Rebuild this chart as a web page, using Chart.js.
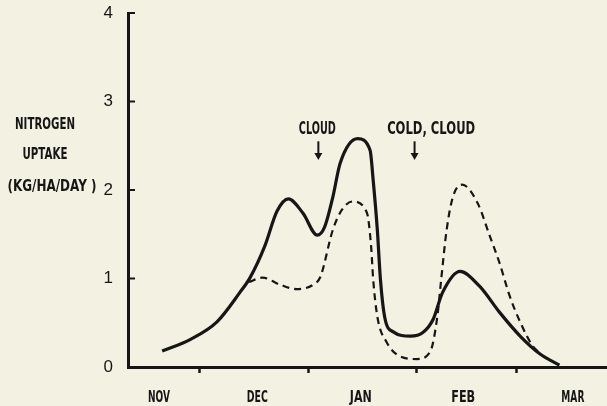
<!DOCTYPE html>
<html>
<head>
<meta charset="utf-8">
<script src="https://cdn.jsdelivr.net/npm/chart.js@4.4.1/dist/chart.umd.min.js"></script>
<style>
  html, body { margin: 0; padding: 0; background: #f3f1e2; }
  #wrap { width: 607px; height: 406px; }
</style>
</head>
<body>
<div id="wrap"><canvas id="chart" width="607" height="406"></canvas></div>
<script>
// Month axis: NOV = 0, DEC = 1, ... (positions)
const monthLabels = ['NOV', 'DEC', 'JAN', 'FEB', 'MAR'];
const monthLabelPos = [0, 0.95, 1.95, 2.94, 4.0];
const monthTickPos = [0.39, 1.44, 2.49, 3.46];
const yTicks = [0, 1, 2, 3, 4];

// Solid curve
const solidX = [0.03, 0.30, 0.56, 0.78, 0.88, 1.02, 1.14, 1.25, 1.39, 1.53, 1.60, 1.68, 1.75, 1.92, 2.04, 2.07, 2.11, 2.14, 2.18, 2.26, 2.43, 2.55, 2.65, 2.74, 2.91, 3.10, 3.29, 3.49, 3.68, 3.87];
const solidY = [0.18, 0.31, 0.51, 0.84, 1.01, 1.36, 1.76, 1.90, 1.74, 1.49, 1.58, 1.92, 2.30, 2.58, 2.45, 2.11, 1.55, 0.99, 0.57, 0.40, 0.35, 0.39, 0.54, 0.84, 1.08, 0.91, 0.62, 0.35, 0.15, 0.02];

// Dashed curve
const dashX = [0.87, 1.00, 1.17, 1.33, 1.49, 1.56, 1.68, 1.77, 1.87, 2.01, 2.05, 2.07, 2.11, 2.20, 2.33, 2.49, 2.62, 2.69, 2.73, 2.78, 2.84, 2.93, 3.08, 3.20, 3.29, 3.39, 3.49, 3.61, 3.68];
const dashY = [0.96, 1.01, 0.93, 0.88, 0.93, 1.02, 1.55, 1.78, 1.87, 1.74, 1.36, 0.99, 0.57, 0.28, 0.12, 0.09, 0.17, 0.57, 1.02, 1.55, 1.92, 2.06, 1.85, 1.47, 1.18, 0.80, 0.51, 0.24, 0.16];

const ink = '#161616';
const paper = '#f3f1e2';

function toPoints(xs, ys) {
    return xs.map((x, i) => ({ x: x, y: ys[i] }));
}

// Narrow, blocky caption text like the typed labels of the original
function drawNarrow(ctx, text, cx, baseY, width, capHeight) {
    ctx.save();
    const size = capHeight / 0.73;
    ctx.font = `bold ${size}px "DejaVu Sans"`;
    const tw = ctx.measureText(text).width;
    ctx.translate(cx, baseY);
    ctx.scale(width / tw, 1);
    ctx.textAlign = 'center';
    ctx.textBaseline = 'alphabetic';
    ctx.fillStyle = ink;
    ctx.fillText(text, 0, 0);
    ctx.restore();
}

function drawArrow(ctx, x, y1, y2) {
    ctx.save();
    ctx.strokeStyle = ink;
    ctx.fillStyle = ink;
    ctx.lineWidth = 2;
    ctx.beginPath();
    ctx.moveTo(x, y1);
    ctx.lineTo(x, y2 - 5);
    ctx.stroke();
    ctx.beginPath();
    ctx.moveTo(x - 4, y2 - 7);
    ctx.lineTo(x + 4, y2 - 7);
    ctx.lineTo(x, y2);
    ctx.closePath();
    ctx.fill();
    ctx.restore();
}

const paperPlugin = {
    id: 'paper',
    beforeDraw(chart) {
        const ctx = chart.ctx;
        ctx.save();
        ctx.fillStyle = paper;
        ctx.fillRect(0, 0, chart.width, chart.height);
        ctx.restore();
    }
};

const labelsPlugin = {
    id: 'labels',
    afterDraw(chart) {
        const ctx = chart.ctx;
        const xs = chart.scales.x;
        const ys = chart.scales.y;

        // inner tick marks on the y axis
        ctx.save();
        ctx.strokeStyle = ink;
        ctx.lineWidth = 2;
        yTicks.forEach(v => {
            const py = ys.getPixelForValue(v);
            ctx.beginPath();
            ctx.moveTo(xs.left, py);
            ctx.lineTo(xs.left + 7, py);
            ctx.stroke();
        });
        ctx.restore();

        // month names
        const widths = [22, 21, 22, 24, 23];
        monthLabels.forEach((m, i) => {
            drawNarrow(ctx, m, xs.getPixelForValue(monthLabelPos[i]), 402, widths[i], 12);
        });

        // axis title
        drawNarrow(ctx, 'NITROGEN', 45, 129, 60, 12);
        drawNarrow(ctx, 'UPTAKE', 45, 159, 45, 12);
        drawNarrow(ctx, '(KG/HA/DAY )', 52, 191, 89, 12);

        // weather notes
        drawNarrow(ctx, 'CLOUD', xs.getPixelForValue(1.53), ys.getPixelForValue(2.63), 37, 13);
        drawNarrow(ctx, 'COLD, CLOUD', xs.getPixelForValue(2.63), ys.getPixelForValue(2.63), 88, 13);
        drawArrow(ctx, xs.getPixelForValue(1.54), ys.getPixelForValue(2.55), ys.getPixelForValue(2.34));
        drawArrow(ctx, xs.getPixelForValue(2.47), ys.getPixelForValue(2.55), ys.getPixelForValue(2.34));
    }
};

const ctx = document.getElementById('chart').getContext('2d');
new Chart(ctx, {
    type: 'line',
    data: {
        datasets: [{
            data: toPoints(solidX, solidY),
            borderColor: ink,
            borderWidth: 3.2,
            pointRadius: 0,
            cubicInterpolationMode: 'monotone',
            fill: false
        }, {
            data: toPoints(dashX, dashY),
            borderColor: ink,
            borderWidth: 2.2,
            borderDash: [7, 5],
            pointRadius: 0,
            cubicInterpolationMode: 'monotone',
            fill: false
        }]
    },
    options: {
        responsive: false,
        animation: false,
        layout: { padding: { left: 0, right: 0, top: 13, bottom: 0 } },
        plugins: {
            legend: { display: false },
            tooltip: { enabled: false }
        },
        scales: {
            x: {
                type: 'linear',
                min: -0.3,
                max: 4.33,
                afterBuildTicks: (scale) => {
                    scale.ticks = monthTickPos.map(v => ({ value: v }));
                },
                afterFit: (scale) => {
                    scale.height = 39;
                    scale.paddingLeft = 0;
                    scale.paddingRight = 0;
                },
                ticks: { display: false },
                grid: {
                    drawOnChartArea: false,
                    drawTicks: true,
                    tickLength: 6,
                    tickWidth: 2.5,
                    tickColor: ink
                },
                border: { display: true, color: ink, width: 3 }
            },
            y: {
                min: 0,
                max: 4,
                afterBuildTicks: (scale) => {
                    scale.ticks = yTicks.map(v => ({ value: v }));
                },
                afterFit: (scale) => {
                    scale.width = 128;
                    scale.paddingTop = 0;
                    scale.paddingBottom = 0;
                },
                ticks: {
                    color: ink,
                    padding: 15,
                    font: { family: '"Liberation Sans"', size: 17 }
                },
                grid: { drawOnChartArea: false, drawTicks: false },
                border: { display: true, color: ink, width: 3 }
            }
        }
    },
    plugins: [paperPlugin, labelsPlugin]
});
</script>
</body>
</html>
